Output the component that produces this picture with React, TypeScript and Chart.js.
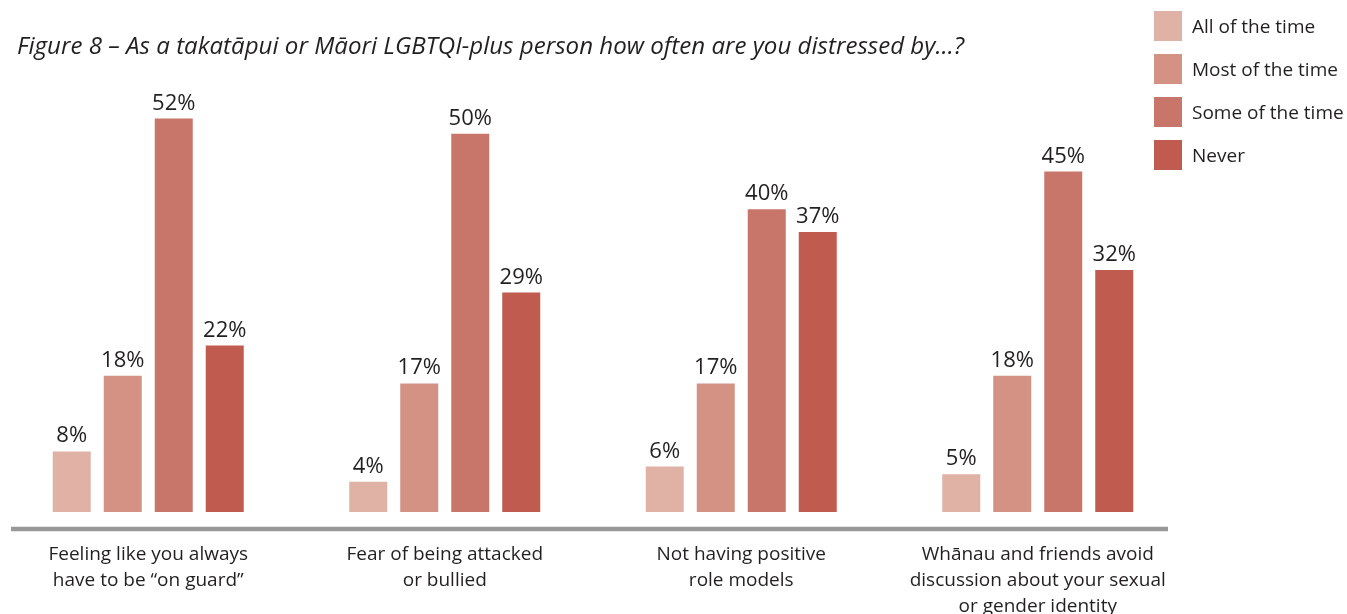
import React, { useEffect, useRef } from "react";
import { Chart, registerables } from "chart.js";

Chart.register(...registerables);

const TITLE = "Figure 8 – As a takatāpui or Māori LGBTQI-plus person how often are you distressed by…?";
const categories: string[][] = [
  ["Feeling like you always", "have to be “on guard”"],
  ["Fear of being attacked", "or bullied"],
  ["Not having positive", "role models"],
  ["Whānau and friends avoid", "discussion about your sexual", "or gender identity"],
];
const seriesNames = ["All of the time", "Most of the time", "Some of the time", "Never"];
const allOfTheTime = [8, 4, 6, 5];
const mostOfTheTime = [18, 17, 17, 18];
const someOfTheTime = [52, 50, 40, 45];
const never = [22, 29, 37, 32];
const seriesValues = [allOfTheTime, mostOfTheTime, someOfTheTime, never];
const colors = ["#E0B2A5", "#D39283", "#C8766A", "#BF5B4F"];

const FONT = "'Open Sans', Lato, sans-serif";
const TEXT = "#231F20";

const decorPlugin = {
  id: "decor",
  afterDraw(chart: any) {
    const ctx = chart.ctx;
    const ca = chart.chartArea;
    ctx.save();
    // title
    ctx.fillStyle = TEXT;
    ctx.font = `italic 24.1px ${FONT}`;
    ctx.textAlign = "left";
    ctx.textBaseline = "alphabetic";
    ctx.fillText(TITLE, 17, 54);
    // axis line
    ctx.strokeStyle = "#999999";
    ctx.lineWidth = 4.5;
    ctx.beginPath();
    ctx.moveTo(ca.left + 11, ca.bottom);
    ctx.lineTo(ca.right - 18, ca.bottom);
    ctx.stroke();
    // legend
    ctx.font = `19px ${FONT}`;
    ctx.textBaseline = "middle";
    chart.data.datasets.forEach((ds: any, i: number) => {
      const y = 11 + 43 * i;
      ctx.fillStyle = ds.backgroundColor;
      ctx.fillRect(1154, y, 28, 30);
      ctx.fillStyle = TEXT;
      ctx.fillText(ds.label, 1192, y + 17);
    });
    ctx.restore();
  },
  afterDatasetsDraw(chart: any) {
    const ctx = chart.ctx;
    ctx.save();
    ctx.fillStyle = TEXT;
    ctx.font = `22px ${FONT}`;
    ctx.textAlign = "center";
    ctx.textBaseline = "alphabetic";
    chart.data.datasets.forEach((ds: any, i: number) => {
      const meta = chart.getDatasetMeta(i);
      meta.data.forEach((bar: any, j: number) => {
        ctx.fillText(`${ds.data[j]}%`, bar.x, bar.y - 9);
      });
    });
    ctx.restore();
  },
};

export default function App() {
  const ref = useRef<HTMLCanvasElement | null>(null);
  useEffect(() => {
    if (!ref.current) return;
    const chart = new Chart(ref.current, {
      type: "bar",
      data: {
        labels: categories,
        datasets: seriesNames.map((name, i) => ({
          label: name,
          data: seriesValues[i],
          backgroundColor: colors[i],
          borderWidth: 0,
          categoryPercentage: 0.688,
          barPercentage: 0.745,
        })),
      },
      options: {
        animation: false,
        responsive: false,
        maintainAspectRatio: false,
        layout: { padding: { top: 58, left: 0, right: 161, bottom: -18 } },
        plugins: {
          legend: { display: false },
          title: { display: false },
          tooltip: { enabled: false },
        },
        scales: {
          x: {
            grid: { display: false, drawTicks: false },
            border: { display: false },
            ticks: {
              color: TEXT,
              font: { family: FONT, size: 19, lineHeight: 1.35 },
              padding: 13,
              maxRotation: 0,
              autoSkip: false,
            },
          },
          y: {
            display: false,
            min: -2.25,
            max: 60,
          },
        },
      },
      plugins: [decorPlugin],
    });
    return () => chart.destroy();
  }, []);
  return (
    <div style={{ position: "fixed", left: 0, top: 0, width: 1347, height: 614, background: "#fff" }}>
      <canvas ref={ref} width={1347} height={614} style={{ width: 1347, height: 614 }} />
    </div>
  );
}
